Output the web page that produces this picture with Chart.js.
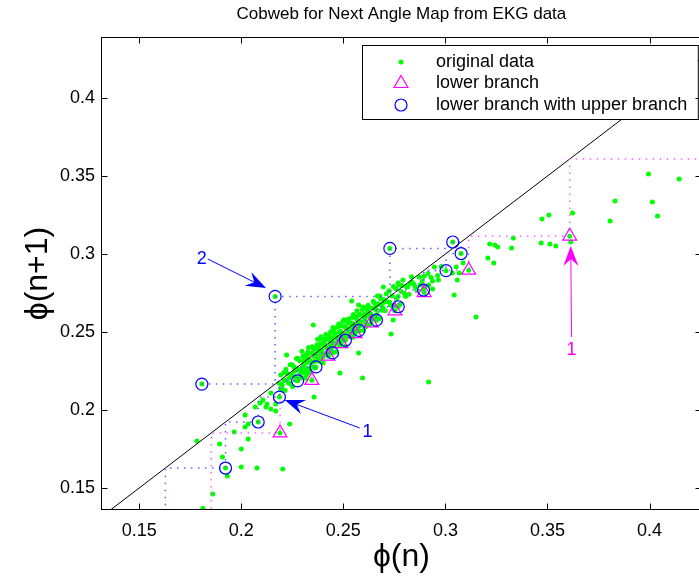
<!DOCTYPE html>
<html>
<head>
<meta charset="utf-8">
<script src="https://cdn.jsdelivr.net/npm/chart.js@4.4.0/dist/chart.umd.min.js"></script>
<style>
  html, body { margin: 0; padding: 0; background: #fff; overflow: hidden; }
  #wrap { width: 711px; height: 579px; }
</style>
</head>
<body>
<div id="wrap"><canvas id="cobwebChart" width="711" height="579"></canvas></div>
<script>
// axis limits and ticks
var xRange = [0.1313, 0.4256];
var yRange = [0.1359, 0.4391];
var xTicks = [0.15, 0.2, 0.25, 0.3, 0.35, 0.4];
var yTicks = [0.15, 0.2, 0.25, 0.3, 0.35, 0.4];

// phi sequences followed by the cobwebs (point k = [s[k], s[k+1]])
var lowerBranch = [0.44, 0.3609, 0.3114, 0.2896, 0.2753, 0.2636, 0.2558, 0.2489, 0.2425, 0.2346, 0.2190, 0.1853, 0.13];
var upperBranch = [0.1807, 0.2166, 0.2728, 0.3036, 0.3077, 0.3003, 0.2893, 0.2769, 0.2662, 0.2576, 0.2510, 0.2447, 0.2366, 0.2276, 0.2187, 0.2083, 0.1923, 0.1628, 0.13];

// original EKG data [phi(n), phi(n+1)]
var originalData = [
  [0.3473,0.3224],[0.3507,0.3250],[0.3623,0.3263],[0.3614,0.3077],[0.3469,0.3071],[0.3512,0.3064],[0.3541,0.3051],
  [0.3831,0.3340],[0.3807,0.3212],[0.3995,0.3513],[0.4014,0.3333],[0.4039,0.3244],[0.4145,0.3481],
  [0.3217,0.3064],[0.3242,0.3058],[0.3256,0.3045],[0.3333,0.3103],[0.3324,0.3038],[0.3208,0.2974],[0.3237,0.2942],
  [0.3043,0.2737],[0.3150,0.2596],[0.3058,0.2833],[0.3034,0.2878],[0.3087,0.2942],[0.3053,0.2917],[0.3068,0.2878],
  [0.2966,0.2833],[0.2937,0.2827],[0.2918,0.2801],[0.2937,0.2776],
  [0.2734,0.2487],[0.2744,0.2577],[0.2696,0.2788],[0.2725,0.2763],[0.2768,0.2814],[0.2773,0.2801],[0.2792,0.2833],
  [0.2816,0.2788],[0.2836,0.2821],[0.2541,0.2699],[0.2667,0.2731],[0.2575,0.2673],[0.2353,0.2545],[0.2222,0.2353],
  [0.2193,0.2224],[0.2198,0.2147],[0.2483,0.2237],[0.2594,0.2205],[0.2357,0.2083],[0.2237,0.1910],[0.2918,0.2179],
  [0.2575,0.2365],[0.1783,0.1801],[0.1894,0.1782],[0.1908,0.1699],[0.1860,0.1462],[0.1812,0.1370],[0.1932,0.1577],
  [0.2000,0.1635],[0.2000,0.1750],[0.2034,0.1814],[0.1966,0.1859],[0.2019,0.1968],[0.2034,0.1910],[0.2019,0.1891],
  [0.2068,0.2019],[0.2092,0.2045],[0.2106,0.2064],[0.2126,0.2038],[0.2121,0.2019],[0.2145,0.2006],[0.2169,0.1994],
  [0.2145,0.2109],[0.2169,0.2038],[0.2193,0.2135],[0.2203,0.2128],[0.2222,0.2192],[0.2077,0.1628],[0.2203,0.1622],
  // dense band along the diagonal
  [0.2200,0.2160],[0.2210,0.2240],[0.2215,0.2125],[0.2225,0.2235],[0.2232,0.2172],[0.2240,0.2290],[0.2246,0.2226],
  [0.2251,0.2151],[0.2258,0.2278],[0.2263,0.2213],[0.2270,0.2330],[0.2274,0.2264],[0.2281,0.2201],[0.2286,0.2316],
  [0.2292,0.2262],[0.2297,0.2377],[0.2301,0.2241],[0.2308,0.2318],[0.2313,0.2203],[0.2318,0.2358],[0.2323,0.2303],
  [0.2329,0.2399],[0.2334,0.2264],[0.2339,0.2359],[0.2344,0.2304],[0.2350,0.2400],[0.2355,0.2345],[0.2360,0.2270],
  [0.2364,0.2394],[0.2369,0.2319],[0.2374,0.2454],[0.2378,0.2378],[0.2383,0.2313],[0.2387,0.2427],[0.2392,0.2362],
  [0.2396,0.2456],[0.2401,0.2301],[0.2405,0.2415],[0.2410,0.2360],[0.2414,0.2484],[0.2418,0.2398],[0.2423,0.2453],
  [0.2427,0.2347],[0.2431,0.2481],[0.2436,0.2426],[0.2440,0.2380],[0.2444,0.2464],[0.2449,0.2529],[0.2453,0.2413],
  [0.2457,0.2497],[0.2462,0.2372],[0.2466,0.2466],[0.2470,0.2530],[0.2475,0.2445],[0.2479,0.2499],[0.2484,0.2414],
  [0.2488,0.2538],[0.2493,0.2483],[0.2497,0.2567],[0.2502,0.2452],[0.2506,0.2536],[0.2511,0.2411],[0.2515,0.2525],
  [0.2520,0.2490],[0.2524,0.2584],[0.2529,0.2469],[0.2533,0.2553],[0.2538,0.2518],[0.2543,0.2593],[0.2547,0.2467],
  [0.2552,0.2552],[0.2557,0.2597],[0.2562,0.2522],[0.2567,0.2637],[0.2572,0.2562],[0.2577,0.2507],[0.2582,0.2612],
  [0.2588,0.2558],[0.2593,0.2643],[0.2599,0.2509],[0.2604,0.2614],[0.2610,0.2560],[0.2616,0.2656],[0.2622,0.2602],
  [0.2628,0.2548],[0.2634,0.2654],[0.2641,0.2601],[0.2647,0.2697],[0.2654,0.2594],[0.2661,0.2671],[0.2668,0.2638],
  [0.2675,0.2585],[0.2683,0.2713],[0.2690,0.2640],[0.2698,0.2708],[0.2706,0.2636],[0.2714,0.2694],[0.2723,0.2763],
  [0.2731,0.2671],[0.2740,0.2730],[0.2749,0.2669],[0.2758,0.2778],[0.2768,0.2728],[0.2778,0.2678],[0.2788,0.2798],
  [0.2799,0.2749],[0.2810,0.2790],[0.2822,0.2742],[0.2834,0.2854],[0.2846,0.2806],[0.2859,0.2769],[0.2872,0.2852],
  [0.2886,0.2826],[0.2900,0.2790],[0.2915,0.2875],[0.2930,0.2850],[0.2946,0.2916],[0.2962,0.2862],[0.2980,0.2920],
  [0.2305,0.2285],[0.2321,0.2336],[0.2337,0.2318],[0.2352,0.2372],[0.2367,0.2351],[0.2381,0.2399],[0.2394,0.2381],
  [0.2408,0.2436],[0.2421,0.2409],[0.2434,0.2452],[0.2447,0.2437],[0.2460,0.2481],[0.2472,0.2461],[0.2486,0.2505],
  [0.2499,0.2488],[0.2512,0.2532],[0.2526,0.2513],[0.2539,0.2560],[0.2552,0.2538],[0.2566,0.2583],[0.2579,0.2566],
  [0.2591,0.2608],[0.2606,0.2588],[0.2619,0.2633],[0.2632,0.2619],[0.2645,0.2652],[0.2659,0.2645],[0.2672,0.2681],
  [0.2686,0.2675],[0.2700,0.2690],[0.2316,0.2250],[0.2346,0.2279],[0.2376,0.2330],[0.2403,0.2350],[0.2432,0.2392],
  [0.2458,0.2420],[0.2487,0.2455],[0.2518,0.2480],[0.2545,0.2510],[0.2575,0.2540],[0.2603,0.2575],[0.2636,0.2610],
  [0.2219,0.2262],[0.2236,0.2205],[0.2249,0.2290],[0.2262,0.2248],[0.2277,0.2330],[0.2289,0.2235],[0.2302,0.2345],
  [0.2311,0.2272],[0.2326,0.2371],[0.2331,0.2243],[0.2347,0.2405],[0.2358,0.2310],[0.2371,0.2419],[0.2385,0.2350],
  [0.2391,0.2470],[0.2399,0.2338],[0.2412,0.2455],[0.2425,0.2371],[0.2438,0.2502],[0.2442,0.2404],[0.2455,0.2521],
  [0.2468,0.2432],[0.2477,0.2551],[0.2491,0.2440],[0.2503,0.2578],[0.2509,0.2475],[0.2522,0.2561],[0.2535,0.2490],
  [0.2549,0.2612],[0.2558,0.2500],[0.2569,0.2603],[0.2583,0.2540],[0.2596,0.2661],[0.2608,0.2533],[0.2621,0.2672],
  [0.2637,0.2580],[0.2650,0.2689],[0.2663,0.2610],[0.2679,0.2731],[0.2694,0.2655],[0.2711,0.2745],[0.2727,0.2690],
  [0.2745,0.2791],[0.2760,0.2712],[0.2783,0.2760],[0.2805,0.2728],[0.2828,0.2811],[0.2852,0.2790],[0.2877,0.2801],
  [0.2895,0.2858],[0.2241,0.2170],[0.2268,0.2190],[0.2295,0.2208],[0.2320,0.2226],[0.2209,0.2189],[0.2186,0.2172]
];

var titleText = 'Cobweb for Next Angle Map from EKG data';
var xLabel = '\u03d5(n)';
var yLabel = '\u03d5(n+1)';
var legendLabels = ['original data', 'lower branch', 'lower branch with upper branch'];

// arrows with their numbers (data coordinates)
var notes = [
  { from: [0.1836, 0.2968], to: [0.2121, 0.2782], text: '2', at: [0.1807, 0.2968], color: '#0000ff' },
  { from: [0.2580, 0.1885], to: [0.2213, 0.2064], text: '1', at: [0.2618, 0.1859], color: '#0000ff' },
  { from: [0.3618, 0.2468], to: [0.3614, 0.3051], text: '1', at: [0.3618, 0.2385], color: '#ff00ff' }
];

var FONT = '"Liberation Sans", Arial, Helvetica, sans-serif';

function branchPoints(s) {
    var pts = [];
    for (var k = 0; k < s.length - 1; k++) {
        if (s[k] <= xRange[1] && s[k + 1] >= yRange[0]) pts.push({ x: s[k], y: s[k + 1] });
    }
    return pts;
}

function cobwebPath(s) {
    var pts = [{ x: s[0], y: s[1] }];
    for (var k = 1; k < s.length - 1; k++) {
        pts.push({ x: s[k], y: s[k] });
        pts.push({ x: s[k], y: s[k + 1] });
    }
    return pts;
}

function drawArrow(ctx, x0, y0, x1, y1, color) {
    var ang = Math.atan2(y1 - y0, x1 - x0);
    var len = 20, half = 7.5, notch = 13;
    ctx.save();
    ctx.strokeStyle = color;
    ctx.fillStyle = color;
    ctx.lineWidth = 1;
    ctx.beginPath();
    ctx.moveTo(x0, y0);
    ctx.lineTo(x1 - Math.cos(ang) * notch, y1 - Math.sin(ang) * notch);
    ctx.stroke();
    ctx.translate(x1, y1);
    ctx.rotate(ang);
    ctx.beginPath();
    ctx.moveTo(0, 0);
    ctx.lineTo(-len, -half);
    ctx.lineTo(-notch, 0);
    ctx.lineTo(-len, half);
    ctx.closePath();
    ctx.fill();
    ctx.restore();
}

var matlabLook = {
    id: 'matlabLook',
    afterDatasetsDraw: function (chart) {
        var ctx = chart.ctx, a = chart.chartArea;
        var xs = chart.scales.x, ys = chart.scales.y;

        // arrows and numbers
        notes.forEach(function (n) {
            drawArrow(ctx, xs.getPixelForValue(n.from[0]), ys.getPixelForValue(n.from[1]),
                xs.getPixelForValue(n.to[0]), ys.getPixelForValue(n.to[1]), n.color);
            ctx.save();
            ctx.fillStyle = n.color;
            ctx.font = '18px ' + FONT;
            ctx.textAlign = 'center';
            ctx.textBaseline = 'middle';
            ctx.fillText(n.text, xs.getPixelForValue(n.at[0]), ys.getPixelForValue(n.at[1]));
            ctx.restore();
        });

        // legend box
        var lx = a.left + 261, ly = a.top + 8, lh = 74;
        ctx.save();
        ctx.fillStyle = '#fff';
        ctx.strokeStyle = '#000';
        ctx.lineWidth = 1;
        ctx.fillRect(lx, ly, a.right - lx - 4, lh);
        ctx.strokeRect(lx + 0.5, ly + 0.5, a.right - lx - 4, lh);
        var mx = lx + 39, tx = lx + 74;
        var rows = [ly + 17, ly + 38.5, ly + 60];
        ctx.fillStyle = '#00ff00';
        ctx.beginPath(); ctx.arc(mx, rows[0], 2.5, 0, Math.PI * 2); ctx.fill();
        ctx.strokeStyle = '#ff00ff';
        ctx.lineWidth = 1.2;
        ctx.beginPath();
        var r = 8;
        ctx.moveTo(mx, rows[1] - r);
        ctx.lineTo(mx + r * Math.sin(Math.PI * 2 / 3), rows[1] - r * Math.cos(Math.PI * 2 / 3));
        ctx.lineTo(mx + r * Math.sin(Math.PI * 4 / 3), rows[1] - r * Math.cos(Math.PI * 4 / 3));
        ctx.closePath();
        ctx.stroke();
        ctx.strokeStyle = '#0000ff';
        ctx.beginPath(); ctx.arc(mx, rows[2], 6, 0, Math.PI * 2); ctx.stroke();
        ctx.fillStyle = '#000';
        ctx.font = '18px ' + FONT;
        ctx.textBaseline = 'middle';
        ctx.textAlign = 'left';
        legendLabels.forEach(function (t, i) { ctx.fillText(t, tx, rows[i]); });
        ctx.restore();

        // frame and inward ticks
        ctx.save();
        ctx.strokeStyle = '#000';
        ctx.lineWidth = 1;
        var L = Math.round(a.left) + 0.5, R = Math.round(a.right) - 0.5;
        var T = Math.round(a.top) + 0.5, B = Math.round(a.bottom) - 0.5;
        ctx.strokeRect(L, T, R - L, B - T);
        ctx.beginPath();
        xTicks.forEach(function (v) {
            var p = Math.round(xs.getPixelForValue(v)) + 0.5;
            ctx.moveTo(p, B); ctx.lineTo(p, B - 6);
            ctx.moveTo(p, T); ctx.lineTo(p, T + 6);
        });
        yTicks.forEach(function (v) {
            var p = Math.round(ys.getPixelForValue(v)) + 0.5;
            ctx.moveTo(L, p); ctx.lineTo(L + 6, p);
            ctx.moveTo(R, p); ctx.lineTo(R - 6, p);
        });
        ctx.stroke();

        // titles
        var cx = (a.left + a.right) / 2, cy = (a.top + a.bottom) / 2;
        ctx.fillStyle = '#000';
        ctx.textAlign = 'center';
        ctx.textBaseline = 'middle';
        ctx.font = '17px ' + FONT;
        ctx.fillText(titleText, cx, 14);
        ctx.font = '32px ' + FONT;
        ctx.fillText(xLabel, cx, 557);
        ctx.translate(38, cy);
        ctx.rotate(-Math.PI / 2);
        ctx.fillText(yLabel, 0, 0);
        ctx.restore();
    }
};

var greenPoints = originalData.map(function (p) { return { x: p[0], y: p[1] }; })
    .concat(branchPoints(lowerBranch), branchPoints(upperBranch));

var config = {
    type: 'scatter',
    data: {
        datasets: [{
            label: legendLabels[2],
            data: branchPoints(upperBranch),
            pointStyle: 'circle',
            pointRadius: 6,
            borderColor: '#0000ff',
            backgroundColor: 'rgba(0,0,0,0)',
            borderWidth: 1.2,
            order: 1
        }, {
            label: legendLabels[1],
            data: branchPoints(lowerBranch),
            pointStyle: 'triangle',
            pointRadius: 8,
            borderColor: '#ff00ff',
            backgroundColor: 'rgba(0,0,0,0)',
            borderWidth: 1.2,
            order: 2
        }, {
            label: 'upper cobweb',
            data: cobwebPath(upperBranch),
            showLine: true,
            pointRadius: 0,
            borderColor: '#5f5fff',
            borderWidth: 1.5,
            borderDash: [1.5, 5.5],
            order: 3
        }, {
            label: 'lower cobweb',
            data: cobwebPath(lowerBranch),
            showLine: true,
            pointRadius: 0,
            borderColor: '#ff5fff',
            borderWidth: 1.5,
            borderDash: [1.5, 5.5],
            order: 4
        }, {
            label: 'identity',
            data: [{ x: 0.1, y: 0.1 }, { x: 0.45, y: 0.45 }],
            showLine: true,
            pointRadius: 0,
            borderColor: '#000',
            borderWidth: 1,
            order: 5
        }, {
            label: legendLabels[0],
            data: greenPoints,
            pointRadius: 2.5,
            backgroundColor: '#00ff00',
            borderWidth: 0,
            order: 6
        }]
    },
    options: {
        responsive: false,
        animation: false,
        events: [],
        layout: { padding: { top: 37, left: 0, right: 1, bottom: 0 } },
        plugins: { legend: { display: false }, title: { display: false }, tooltip: { enabled: false } },
        scales: {
            x: {
                type: 'linear',
                min: xRange[0],
                max: xRange[1],
                grid: { display: false, drawTicks: false },
                border: { display: false },
                afterBuildTicks: function (s) { s.ticks = xTicks.map(function (v) { return { value: v }; }); },
                afterFit: function (s) { s.height = 69; },
                ticks: {
                    padding: 10,
                    color: '#000',
                    font: { family: FONT, size: 18 },
                    maxRotation: 0,
                    callback: function (v) { return String(+v.toFixed(2)); }
                }
            },
            y: {
                type: 'linear',
                min: yRange[0],
                max: yRange[1],
                grid: { display: false, drawTicks: false },
                border: { display: false },
                afterBuildTicks: function (s) { s.ticks = yTicks.map(function (v) { return { value: v }; }); },
                afterFit: function (s) { s.width = 101; },
                ticks: {
                    padding: 6,
                    color: '#000',
                    font: { family: FONT, size: 18 },
                    callback: function (v) { return String(+v.toFixed(2)); }
                }
            }
        }
    },
    plugins: [matlabLook]
};

window.myChart = new Chart(document.getElementById('cobwebChart'), config);
</script>
</body>
</html>
